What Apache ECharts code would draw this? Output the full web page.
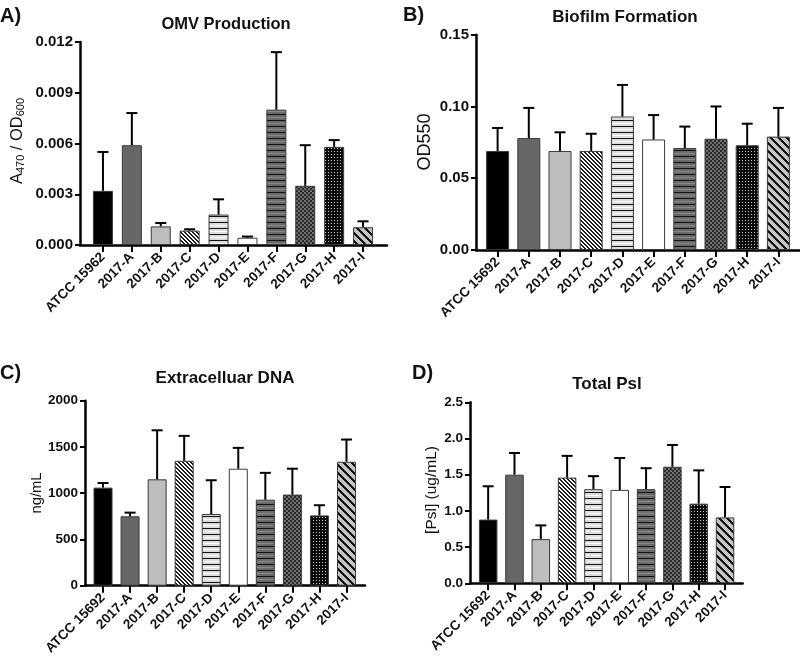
<!DOCTYPE html>
<html>
<head>
<meta charset="utf-8">
<script src="https://cdn.jsdelivr.net/npm/echarts@6/dist/echarts.min.js"></script>
<style>html,body{margin:0;padding:0;background:#fff}#c{width:800px;height:661px}</style>
</head>
<body>
<div id="c"></div>
<script>
// ---- data ----
const categoriesA = ['ATCC 15962','2017-A','2017-B','2017-C','2017-D','2017-E','2017-F','2017-G','2017-H','2017-I'];
const categoriesBCD = ['ATCC 15692','2017-A','2017-B','2017-C','2017-D','2017-E','2017-F','2017-G','2017-H','2017-I'];

const omvMean = [0.0032, 0.0059, 0.0011, 0.00085, 0.0018, 0.00043, 0.0080, 0.0035, 0.0058, 0.00105];
const omvTop  = [0.0055, 0.0078, 0.0013, 0.00093, 0.0027, 0.00050, 0.0114, 0.0059, 0.0062, 0.0014];

const bioMean = [0.069, 0.078, 0.069, 0.069, 0.093, 0.077, 0.071, 0.0775, 0.073, 0.079];
const bioTop  = [0.085, 0.099, 0.082, 0.081, 0.115, 0.094, 0.086, 0.100, 0.088, 0.099];

const dnaMean = [1060, 750, 1150, 1350, 775, 1265, 930, 985, 760, 1340];
const dnaTop  = [1110, 790, 1680, 1620, 1140, 1490, 1220, 1265, 870, 1580];

const pslMean = [0.88, 1.50, 0.61, 1.46, 1.30, 1.29, 1.30, 1.61, 1.10, 0.91];
const pslTop  = [1.34, 1.80, 0.80, 1.76, 1.48, 1.73, 1.59, 1.91, 1.56, 1.33];

const ticksA = {min: 0, max: 0.012, interval: 0.003, dec: 3};
const ticksB = {min: 0, max: 0.15, interval: 0.05, dec: 2};
const ticksC = {min: 0, max: 2000, interval: 500, dec: 0};
const ticksD = {min: 0, max: 2.5, interval: 0.5, dec: 1};

// ---- patterns ----
function tile(w, h, draw) {
  const c = document.createElement('canvas'); c.width = w; c.height = h;
  const g = c.getContext('2d'); draw(g, w, h); return c;
}
function diag(s, lw, bg, fg) {
  return tile(s, s, (g) => {
    g.fillStyle = bg; g.fillRect(0, 0, s, s);
    g.fillStyle = fg;
    for (let y = 0; y < s; y++) for (let k = 0; k < lw; k++) g.fillRect((y + k) % s, y, 1, 1);
  });
}
const patC = diag(4, 2, '#ffffff', '#1a1a1a');
const patI = diag(8, 3, '#c4c4c4', '#111111');
const patD = tile(2, 6, (g) => {
  const rows = ['#111111', '#dcdcdc', '#dcdcdc', '#ffffff', '#dcdcdc', '#dcdcdc'];
  rows.forEach((c, i) => { g.fillStyle = c; g.fillRect(0, i, 2, 1); });
});
const patF = tile(2, 6, (g) => {
  const rows = ['#111111', '#6a6a6a', '#6a6a6a', '#8a8a8a', '#6a6a6a', '#6a6a6a'];
  rows.forEach((c, i) => { g.fillStyle = c; g.fillRect(0, i, 2, 1); });
});
const patG = tile(4, 4, (g) => {
  g.fillStyle = '#2a2a2a'; g.fillRect(0, 0, 4, 4);
  g.fillStyle = '#707070'; g.fillRect(0, 0, 2, 2); g.fillRect(2, 2, 2, 2);
});
const patH = tile(3, 3, (g) => {
  g.fillStyle = '#0a0a0a'; g.fillRect(0, 0, 3, 3);
  g.fillStyle = '#c8c8c8'; g.fillRect(1, 1, 1, 1);
});
const fills = [
  '#000000', '#676767', '#bdbdbd',
  {image: patC, repeat: 'repeat'},
  {image: patD, repeat: 'repeat'},
  '#ffffff',
  {image: patF, repeat: 'repeat'},
  {image: patG, repeat: 'repeat'},
  {image: patH, repeat: 'repeat'},
  {image: patI, repeat: 'repeat'}
];

// ---- layout ----
const panels = [
  {cats: categoriesA, mean: omvMean, top: omvTop, ticks: ticksA, yfs: 15,
   outer: {left: 80, right: 413, top: 42, bottom: 416},
   inner: {left: 88.5, right: 422.5, top: 42, bottom: 416}, bw: 20},
  {cats: categoriesBCD, mean: bioMean, top: bioTop, ticks: ticksB, yfs: 15,
   outer: {left: 476, right: 0, top: 34.7, bottom: 411},
   inner: {left: 482, right: 6, top: 34.7, bottom: 411}, bw: 23},
  {cats: categoriesBCD, mean: dnaMean, top: dnaTop, ticks: ticksC, yfs: 13.5,
   outer: {left: 85, right: 435, top: 400.7, bottom: 75.3},
   inner: {left: 89.5, right: 440, top: 400.7, bottom: 75.3}, bw: 19},
  {cats: categoriesBCD, mean: pslMean, top: pslTop, ticks: ticksD, yfs: 13.5,
   outer: {left: 470, right: 57.3, top: 402.3, bottom: 77.7},
   inner: {left: 475, right: 61.8, top: 402.3, bottom: 77.7}, bw: 18.5}
];

const FONT = '"Liberation Sans", Arial, sans-serif';
const grids = [], xAxes = [], yAxes = [], series = [];

panels.forEach((p, i) => {
  const gO = grids.length; grids.push(Object.assign({containLabel: false}, p.outer));
  const gI = grids.length; grids.push(Object.assign({containLabel: false}, p.inner));
  xAxes.push({gridIndex: gO, type: 'value', min: 0, max: 1,
    axisLine: {show: true, lineStyle: {color: '#000', width: 2.5}},
    axisTick: {show: false}, axisLabel: {show: false}, splitLine: {show: false}});
  yAxes.push({gridIndex: gO, type: 'value', min: p.ticks.min, max: p.ticks.max, interval: p.ticks.interval,
    axisLine: {show: true, lineStyle: {color: '#000', width: 2.5}},
    axisTick: {show: true, length: 5, lineStyle: {color: '#000', width: 2}},
    axisLabel: {margin: 7, color: '#111', fontFamily: FONT, fontWeight: 'bold', fontSize: p.yfs,
      formatter: (v) => v.toFixed(p.ticks.dec)},
    splitLine: {show: false}});
  const xi = xAxes.length;
  xAxes.push({gridIndex: gI, type: 'category', data: p.cats,
    axisLine: {show: false},
    axisTick: {show: true, alignWithLabel: true, length: 7, lineStyle: {color: '#000', width: 2}},
    axisLabel: {rotate: 45, interval: 0, margin: 10, color: '#111', fontFamily: FONT, fontWeight: 'bold', fontSize: 13.5}});
  const yi = yAxes.length;
  yAxes.push({gridIndex: gI, type: 'value', min: p.ticks.min, max: p.ticks.max, show: false, splitLine: {show: false}});
  series.push({type: 'bar', xAxisIndex: xi, yAxisIndex: yi, barWidth: p.bw, z: 1,
    data: p.mean.map((v, k) => ({value: v, itemStyle: {color: fills[k], borderColor: '#3a3a3a', borderWidth: 1}})),
    animation: false});
  series.push({type: 'custom', xAxisIndex: xi, yAxisIndex: yi, z: 3,
    data: p.mean.map((v, k) => [k, v, p.top[k]]),
    renderItem: (params, api) => {
      const a = api.coord([api.value(0), api.value(1)]);
      const b = api.coord([api.value(0), api.value(2)]);
      const hw = 5.5;
      return {type: 'group', children: [
        {type: 'line', shape: {x1: a[0], y1: a[1], x2: b[0], y2: b[1]}, style: {stroke: '#000', lineWidth: 2}},
        {type: 'line', shape: {x1: b[0] - hw, y1: b[1], x2: b[0] + hw, y2: b[1]}, style: {stroke: '#000', lineWidth: 2}}
      ]};
    },
    animation: false});
});

function txt(x, y, text, size, bold, align) {
  return {type: 'text', x: x, y: y, style: {text: text, fontSize: size, fontWeight: bold ? 'bold' : 'normal',
    fontFamily: FONT, fill: '#111', align: align || 'center', verticalAlign: 'middle'}};
}
function vtxt(x, y, text, size, rich) {
  return {type: 'text', x: x, y: y, rotation: Math.PI / 2,
    style: {text: text, fontSize: size, fontFamily: FONT, fill: '#111', align: 'center', verticalAlign: 'middle', rich: rich}};
}

const graphics = [
  txt(0, 16, 'A)', 20, true, 'left'),
  txt(403, 15, 'B)', 20, true, 'left'),
  txt(0, 373, 'C)', 20, true, 'left'),
  txt(412, 373, 'D)', 20, true, 'left'),
  txt(226, 24, 'OMV Production', 16.5, true),
  txt(625, 17, 'Biofilm Formation', 17, true),
  txt(225, 378, 'Extracelluar DNA', 17, true),
  txt(607, 384, 'Total Psl', 17, true),
  vtxt(15, 141, '{n|A}{s|470}{n| / OD}{s|600}', 16, {
    n: {fontSize: 16.5, fontFamily: FONT, fill: '#111', verticalAlign: 'bottom', lineHeight: 22},
    s: {fontSize: 11, fontFamily: FONT, fill: '#111', verticalAlign: 'bottom', lineHeight: 15}
  }),
  vtxt(425, 142, 'OD550', 18),
  vtxt(37, 493, 'ng/mL', 14.8),
  vtxt(432, 490, '[Psl] (ug/mL)', 15.5)
];

const chart = echarts.init(document.getElementById('c'), null, {renderer: 'canvas'});
chart.setOption({
  animation: false,
  backgroundColor: '#ffffff',
  grid: grids, xAxis: xAxes, yAxis: yAxes, series: series,
  graphic: graphics
});
</script>
</body>
</html>
